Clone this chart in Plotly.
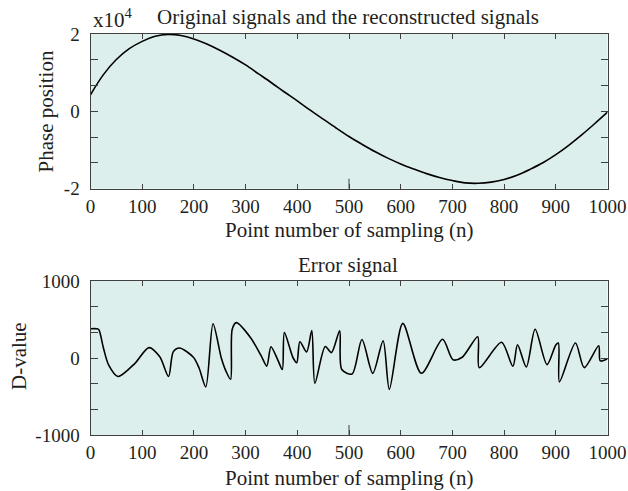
import plotly.graph_objects as go

# ---- data ----
phase_n = list(range(0, 1001, 25))
phase_e4 = [0.43, 0.95, 1.34, 1.62, 1.81, 1.94, 1.99, 1.96, 1.87, 1.74, 1.58, 1.40, 1.20,
            0.97, 0.74, 0.50, 0.27, 0.03, -0.20, -0.43, -0.65, -0.85, -1.04, -1.21, -1.36,
            -1.49, -1.61, -1.71, -1.79, -1.85, -1.86, -1.83, -1.76, -1.65, -1.50, -1.33,
            -1.12, -0.88, -0.61, -0.32, -0.02]

err_n = [0, 12, 16, 25, 35, 53, 86, 113, 134, 151, 160, 172, 199, 210, 223, 237, 253, 262,
         271, 274, 282, 310, 330, 341, 349, 362, 371, 375, 392, 399, 405, 418, 428, 434,
         454, 466, 482, 486, 506, 525, 546, 566, 578, 604, 640, 681, 701, 719, 749, 752,
         795, 817, 826, 843, 860, 883, 900, 905, 907, 938, 955, 983, 986, 1000]
err_v = [380, 380, 370, 130, -90, -240, -69, 135, 15, -240, 80, 130, 10, -130, -375, 445,
         0, -170, -277, 370, 459, 260, 30, -105, 147, -20, -150, 330, 0, -60, 212, 80, 355,
         -329, 150, 70, 355, -150, -208, 240, -200, 225, -407, 450, -199, 243, -22, 10, 277,
         -126, 205, -108, 172, -117, 373, -86, 170, 195, -310, 195, -125, 158, -37, -10]

x_ticks = list(range(0, 1001, 100))
phase_ticks = [2, 4/3, 2/3, 0, -2/3, -4/3, -2]
phase_labels = ["2", "", "", "0", "", "", "-2"]
err_ticks = [1000, 2000/3, 1000/3, 0, -1000/3, -2000/3, -1000]
err_labels = ["1000", "", "", "0", "", "", "-1000"]

FONT = "Liberation Serif"
TXT = "#231f20"
BG = "#ddefec"
FRAME = "#404040"

fig = go.Figure()
fig.add_trace(go.Scatter(x=phase_n, y=phase_e4, mode="lines", xaxis="x", yaxis="y",
                         line=dict(color="black", width=1.6, shape="spline", smoothing=1),
                         showlegend=False))
fig.add_trace(go.Scatter(x=err_n, y=err_v, mode="lines", xaxis="x2", yaxis="y2",
                         line=dict(color="black", width=1.6, shape="spline", smoothing=0.8),
                         showlegend=False))

xd = [90.5 / 628, 607.5 / 628]
axis_common = dict(showline=True, linecolor=FRAME, linewidth=1, mirror="ticks",
                   ticks="inside", tickcolor=FRAME, showgrid=False, zeroline=False,
                   automargin=False,
                   tickfont=dict(family=FONT, size=19, color=TXT))

fig.update_layout(
    width=628, height=491, margin=dict(l=0, r=0, t=0, b=0, autoexpand=False),
    paper_bgcolor="white", plot_bgcolor=BG,
    xaxis=dict(domain=xd, range=[0, 1000], anchor="y", tickvals=x_ticks, ticklen=5,
               ticklabelstandoff=0, **axis_common),
    yaxis=dict(domain=[1 - 188.7 / 491, 1 - 34 / 491], range=[-2, 2], anchor="x",
               tickvals=phase_ticks, ticktext=phase_labels, ticklen=7,
               ticklabelstandoff=6, **axis_common),
    xaxis2=dict(domain=xd, range=[0, 1000], anchor="y2", tickvals=x_ticks, ticklen=5,
                ticklabelstandoff=0, **axis_common),
    yaxis2=dict(domain=[1 - 435 / 491, 1 - 281 / 491], range=[-1000, 1000], anchor="x2",
                tickvals=err_ticks, ticktext=err_labels, ticklen=7,
                ticklabelstandoff=6, **axis_common),
)

# longer tick at 500 on both panels
for xr, yr in (("x", "y domain"), ("x2", "y2 domain")):
    fig.add_shape(type="line", xref=xr, yref=yr, x0=500, x1=500, y0=0, y1=0.065,
                  line=dict(color=FRAME, width=1))

ann_font = dict(family=FONT, size=21, color=TXT)
anns = [
    dict(text="Original signals and the reconstructed signals", x=348 / 628, y=1 - 17 / 491,
         xanchor="center", yanchor="middle"),
    dict(text="x10<sup>4</sup>", x=91 / 628, y=1 - 18 / 491, xanchor="left", yanchor="middle"),
    dict(text="Error signal", x=348 / 628, y=1 - 265 / 491, xanchor="center", yanchor="middle"),
    dict(text="Point number of sampling (n)", x=349 / 628, y=1 - 230 / 491,
         xanchor="center", yanchor="middle"),
    dict(text="Point number of sampling (n)", x=349 / 628, y=1 - 478 / 491,
         xanchor="center", yanchor="middle"),
    dict(text="Phase position", x=45 / 628, y=1 - 111.5 / 491, textangle=-90,
         xanchor="center", yanchor="middle"),
    dict(text="D-value", x=18.5 / 628, y=1 - 356.5 / 491, textangle=-90,
         xanchor="center", yanchor="middle"),
]
for a in anns:
    fig.add_annotation(xref="paper", yref="paper", showarrow=False, font=ann_font, **a)

fig.write_html("out.html")
